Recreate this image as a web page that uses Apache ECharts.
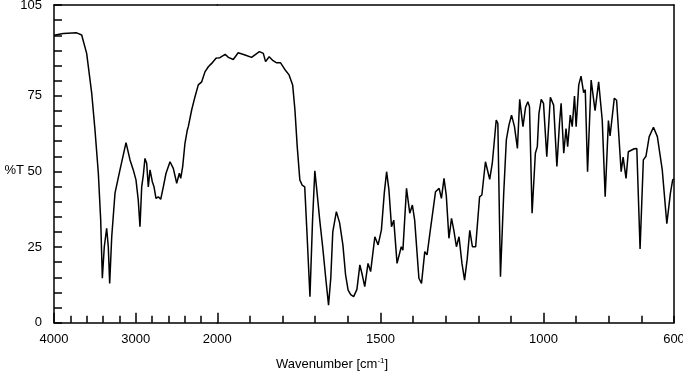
<!DOCTYPE html>
<html>
<head>
<meta charset="utf-8">
<script src="https://cdn.jsdelivr.net/npm/echarts@6/dist/echarts.min.js"></script>
<style>
html, body { margin: 0; padding: 0; background: #fff; }
#main { width: 683px; height: 375px; }
</style>
</head>
<body>
<div id="main"></div>
<script>
// wavenumber [cm-1] and %T
const wavenumbers = [
  4000, 3886, 3722, 3661, 3600, 3538, 3498, 3457, 3428, 3408, 3384, 3355, 3335, 3318, 3293, 3253,
  3192, 3118, 3069, 3029, 2996, 2968, 2947, 2926, 2906, 2886, 2865, 2845, 2824, 2796, 2775, 2751,
  2723, 2693, 2661, 2628, 2579, 2539, 2497, 2465, 2448, 2424, 2396, 2367, 2355, 2314, 2273, 2233,
  2191, 2151, 2110, 2069, 2049, 2016, 2000,
  1992, 1976, 1966, 1961, 1951, 1936, 1915, 1895, 1871, 1859, 1852, 1841, 1829, 1818, 1806, 1793,
  1780, 1769, 1762, 1755, 1747, 1740, 1732, 1725, 1716, 1708, 1701, 1694, 1686, 1677, 1667, 1659,
  1652, 1646, 1635, 1625, 1615, 1607, 1599, 1591, 1582, 1572, 1563, 1556, 1548, 1538, 1530, 1517,
  1507, 1497, 1488, 1481, 1474, 1466, 1459, 1449, 1436, 1431, 1420, 1410, 1402, 1395, 1382, 1374,
  1364, 1357, 1347, 1341, 1331, 1320, 1313, 1305, 1298, 1290, 1282, 1275, 1267, 1259, 1250, 1242,
  1234, 1226, 1218, 1208, 1196, 1189, 1178, 1174, 1165, 1157, 1145, 1140, 1132, 1122, 1114, 1106,
  1098, 1089, 1080, 1073, 1063, 1055, 1048, 1043, 1035, 1025, 1019, 1014, 1007, 1000, 990, 979,
  969, 959, 951, 946, 938, 931, 926, 918, 912, 905, 900, 892, 885, 877, 872, 865,
  854, 842, 831, 820, 811, 801, 796, 783, 776, 762, 756, 747, 740, 722, 714, 704,
  694, 686, 676, 663, 651, 636, 622, 611, 604, 600
];
const transmittance = [
  95.0, 95.6, 95.8, 95.1, 89.0, 75.8, 63.7, 49.4, 33.9, 14.7, 25.1, 31.2, 25.1, 13.0, 28.4, 42.8,
  50.5, 59.5, 53.8, 50.5, 47.2, 40.5, 31.7, 44.9, 48.8, 54.3, 52.7, 44.9, 50.5, 46.6, 44.9, 41.1,
  41.6, 40.8, 44.9, 49.4, 53.2, 51.0, 46.1, 49.4, 47.7, 51.6, 59.3, 63.7, 64.8, 70.3, 74.7, 78.6,
  79.6, 82.9, 84.6, 85.7, 85.2, 87.4, 87.5,
  87.6, 88.7, 87.7, 87.9, 87.0, 89.2, 88.5, 87.7, 89.6, 89.0, 86.3, 87.9, 86.6, 85.9, 85.9, 83.7,
  81.9, 78.6, 70.3, 58.2, 47.2, 45.5, 44.9, 29.5, 8.6, 33.9, 50.2, 42.8, 33.9, 25.1, 14.1, 5.8,
  15.0, 30.0, 36.7, 33.0, 25.7, 16.0, 10.8, 9.3, 8.6, 11.0, 19.1, 16.0, 11.9, 19.6, 16.9, 28.4,
  25.7, 30.6, 43.0, 49.9, 44.0, 31.7, 33.9, 19.6, 25.1, 24.0, 44.4, 36.2, 38.9, 33.9, 14.7, 13.0,
  23.5, 22.4, 30.6, 31.2, 43.3, 44.4, 41.1, 47.7, 42.0, 27.9, 34.5, 30.6, 25.1, 28.4, 19.6, 14.1,
  21.0, 30.5, 25.1, 25.1, 41.6, 42.2, 53.2, 53.8, 47.4, 52.7, 67.0, 65.9, 15.2, 42.8, 60.4, 65.3,
  68.6, 64.8, 57.6, 73.8, 64.8, 71.2, 73.0, 71.4, 36.2, 56.0, 58.2, 69.2, 73.8, 72.5, 54.9, 74.5,
  71.9, 51.6, 65.9, 72.5, 56.0, 64.2, 58.2, 68.6, 64.8, 74.9, 64.8, 78.6, 81.5, 76.0, 77.0, 49.9,
  80.2, 70.1, 79.6, 67.0, 41.6, 66.8, 61.7, 74.2, 73.5, 49.9, 54.7, 47.7, 56.5, 57.5, 57.6, 24.4,
  53.8, 55.0, 61.5, 64.6, 61.5, 50.5, 32.7, 42.8, 47.2, 47.5
];
const yLabels = [0, 25, 50, 75, 105];
const highLabels = [4000, 3000, 2000];
const lowLabels = [1500, 1000, 600];
const lowMajorTicks = [2000, 1500, 1000];

const font = '"Liberation Sans", Arial, sans-serif';

// split the spectrum at 2000 cm-1 where the axis scale changes
const highPart = [];
const lowPart = [];
wavenumbers.forEach((w, i) => {
  if (w >= 2000) highPart.push([w, transmittance[i]]);
  if (w <= 2000) lowPart.push([w, transmittance[i]]);
});

const frame = { show: true, lineStyle: { color: '#000', width: 1.5 } };

const option = {
  animation: false,
  backgroundColor: '#fff',
  textStyle: { fontFamily: font },
  title: {
    text: 'Wavenumber [cm{sup|-1}]',
    left: 271,
    top: 352,
    textStyle: {
      fontFamily: font,
      fontSize: 13,
      fontWeight: 'normal',
      color: '#000',
      rich: { sup: { fontFamily: font, fontSize: 8, verticalAlign: 'top', color: '#000', padding: [0, 0, 6, 0] } }
    }
  },
  grid: [
    { left: 54, top: 5, width: 163.3, height: 317.7, outerBoundsMode: 'none', containLabel: false },
    { left: 217.3, top: 5, width: 456.7, height: 317.7, outerBoundsMode: 'none', containLabel: false }
  ],
  xAxis: [
    {
      gridIndex: 0, type: 'value', min: 2000, max: 4000, interval: 1000, inverse: true, position: 'bottom',
      axisLine: frame,
      axisTick: { inside: true, length: 10, lineStyle: { color: '#000', width: 1.5 } },
      minorTick: { show: true, splitNumber: 5, length: 7, lineStyle: { color: '#000', width: 1.5 } },
      splitLine: { show: false },
      axisLabel: {
        color: '#000', fontSize: 13, fontFamily: font, margin: 10,
        formatter: v => highLabels.includes(v) ? String(v) : ''
      }
    },
    {
      gridIndex: 0, type: 'value', min: 2000, max: 4000, inverse: true, position: 'top',
      axisLine: frame, axisTick: { show: false }, axisLabel: { show: false }, splitLine: { show: false }
    },
    {
      gridIndex: 1, type: 'value', min: 600, max: 2000, interval: 100, inverse: true, position: 'bottom',
      axisLine: frame,
      axisTick: { inside: true, length: 7, lineStyle: { color: '#000', width: 1.5 } },
      axisLabel: { show: false },
      splitLine: { show: false }
    },
    {
      gridIndex: 1, type: 'value', min: 600, max: 2000, inverse: true, position: 'bottom',
      axisLine: { show: false },
      axisTick: { inside: true, length: 10, customValues: lowMajorTicks, lineStyle: { color: '#000', width: 1.5 } },
      axisLabel: {
        color: '#000', fontSize: 13, fontFamily: font, margin: 10, customValues: lowLabels,
        formatter: v => String(v)
      },
      splitLine: { show: false }
    },
    {
      gridIndex: 1, type: 'value', min: 600, max: 2000, inverse: true, position: 'top',
      axisLine: frame, axisTick: { show: false }, axisLabel: { show: false }, splitLine: { show: false }
    }
  ],
  yAxis: [
    {
      gridIndex: 0, type: 'value', min: 0, max: 105, interval: 5, position: 'left',
      name: '%T', nameLocation: 'middle', nameRotate: 0, nameGap: 30, nameMoveOverlap: false,
      nameTextStyle: { color: '#000', fontSize: 13, fontFamily: font, align: 'right', verticalAlign: 'top' },
      axisLine: frame,
      axisTick: { inside: true, length: 8, lineStyle: { color: '#000', width: 1.5 } },
      splitLine: { show: false },
      axisLabel: {
        color: '#000', fontSize: 13, fontFamily: font, margin: 12,
        formatter: v => yLabels.includes(v) ? String(v) : ''
      }
    },
    {
      gridIndex: 1, type: 'value', min: 0, max: 105, position: 'right',
      axisLine: frame, axisTick: { show: false }, axisLabel: { show: false }, splitLine: { show: false }
    }
  ],
  series: [
    {
      type: 'line', xAxisIndex: 0, yAxisIndex: 0, data: highPart,
      showSymbol: false, lineStyle: { color: '#000', width: 1.5 }
    },
    {
      type: 'line', xAxisIndex: 2, yAxisIndex: 1, data: lowPart,
      showSymbol: false, lineStyle: { color: '#000', width: 1.5 }
    }
  ]
};

const chart = echarts.init(document.getElementById('main'));
chart.setOption(option);
</script>
</body>
</html>
